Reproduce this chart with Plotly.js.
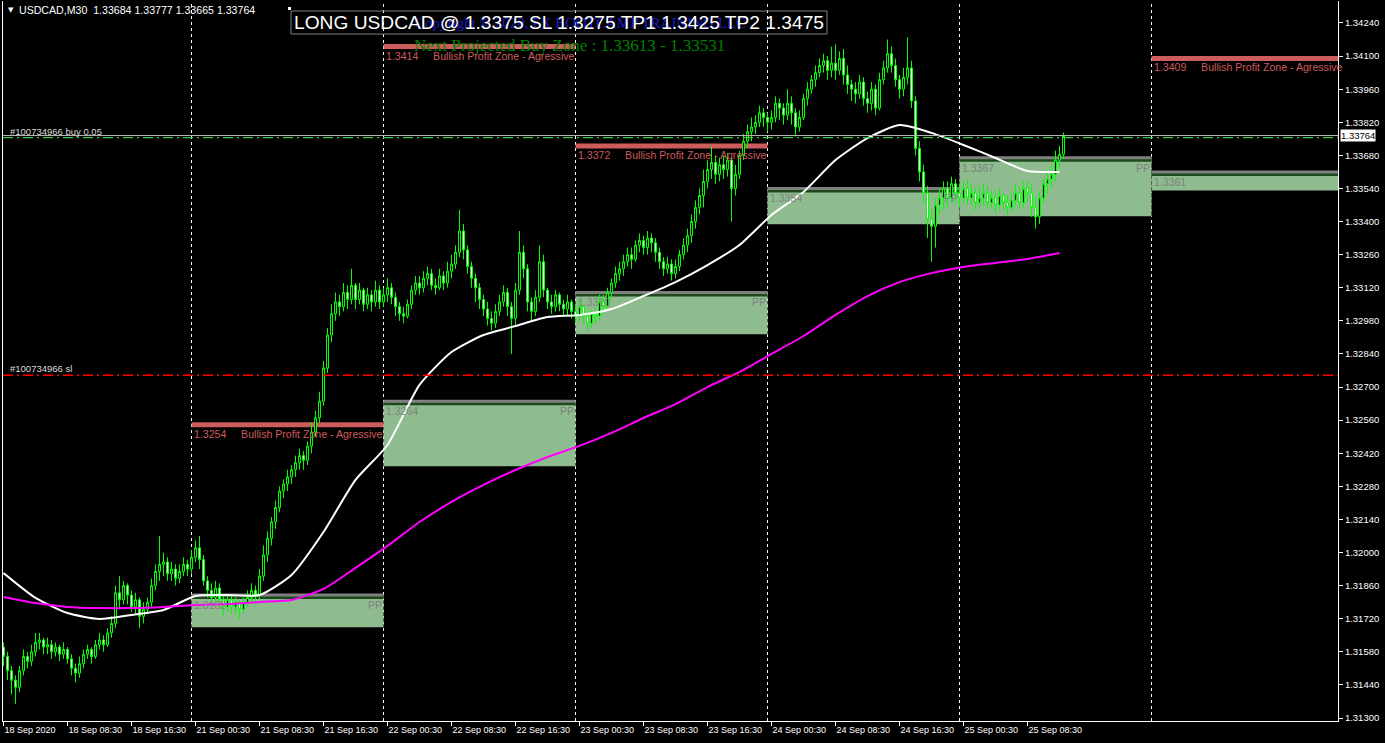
<!DOCTYPE html>
<html><head><meta charset="utf-8">
<script src="https://cdn.plot.ly/plotly-3.0.1.min.js"></script>
<style>html,body{margin:0;padding:0;background:#000;overflow:hidden}#chart{width:1385px;height:743px}</style>
</head><body><div id="chart"></div>
<script>
// ---- data (USDCAD M30 candles) ----
const closes = [
1.3156,1.3150,1.3146,1.3143, 1.3150,1.3156,1.3154,1.3158, 1.3162,1.3163,1.3160,1.3161, 1.3158,1.3160,1.3157,1.3159,
1.3155,1.3151,1.3149,1.3153, 1.3157,1.3159,1.3156,1.3161, 1.3163,1.3161,1.3166,1.3170, 1.3183,1.3180,1.3186,1.3182,
1.3177,1.3180,1.3173,1.3176, 1.3179,1.3186,1.3192,1.3195, 1.3196,1.3191,1.3193,1.3189, 1.3192,1.3195,1.3193,1.3198,
1.3202,1.3197,1.3188,1.3184, 1.3181,1.3185,1.3180,1.3177, 1.3180,1.3177,1.3179,1.3176, 1.3179,1.3181,1.3184,1.3182,
1.3190,1.3199,1.3206,1.3213, 1.3219,1.3226,1.3229,1.3232, 1.3235,1.3238,1.3241,1.3239, 1.3245,1.3251,1.3257,1.3264,
1.3278,1.3292,1.3301,1.3306, 1.3304,1.3310,1.3307,1.3313, 1.3307,1.3311,1.3305,1.3309, 1.3306,1.3311,1.3306,1.3309,
1.3312,1.3308,1.3304,1.3301, 1.3300,1.3305,1.3311,1.3314, 1.3312,1.3316,1.3318,1.3313, 1.3312,1.3317,1.3314,1.3319,
1.3322,1.3327,1.3336,1.3328, 1.3321,1.3316,1.3312,1.3307, 1.3303,1.3299,1.3297,1.3302, 1.3306,1.3310,1.3304,1.3299,
1.3311,1.3327,1.3320,1.3306, 1.3302,1.3308,1.3323,1.3311, 1.3306,1.3304,1.3309,1.3305, 1.3303,1.3306,1.3302,1.3300,
1.3304,1.3300,1.3297,1.3301, 1.3300,1.3306,1.3304,1.3310, 1.3314,1.3318,1.3320,1.3323, 1.3326,1.3324,1.3330,1.3332,
1.3329,1.3333,1.3331,1.3327, 1.3323,1.3320,1.3322,1.3318, 1.3321,1.3326,1.3330,1.3334, 1.3340,1.3346,1.3351,1.3357,
1.3362,1.3365,1.3360,1.3364, 1.3362,1.3366,1.3354,1.3360, 1.3368,1.3374,1.3378,1.3380, 1.3382,1.3386,1.3384,1.3382,
1.3384,1.3390,1.3388,1.3385, 1.3390,1.3386,1.3380,1.3384, 1.3392,1.3396,1.3400,1.3403, 1.3406,1.3408,1.3404,1.3407,
1.3404,1.3409,1.3402,1.3398, 1.3396,1.3394,1.3399,1.3392, 1.3390,1.3396,1.3388,1.3400, 1.3405,1.3411,1.3406,1.3400,
1.3396,1.3401,1.3405,1.3391, 1.3371,1.3361,1.3352,1.3341, 1.3338,1.3347,1.3350,1.3354, 1.3350,1.3356,1.3352,1.3350,
1.3354,1.3350,1.3352,1.3348, 1.3350,1.3352,1.3348,1.3350, 1.3347,1.3351,1.3348,1.3346, 1.3349,1.3352,1.3348,1.3354,
1.3352,1.3346,1.3342,1.3350, 1.3356,1.3358,1.3360,1.3366, 1.33684,1.33764
];
const highs = [
1.3162,1.3158,1.3152,1.3148, 1.3152,1.3159,1.3158,1.3161, 1.3166,1.3166,1.3164,1.3164, 1.3163,1.3162,1.3161,1.3162,
1.3160,1.3157,1.3153,1.3156, 1.3159,1.3161,1.3160,1.3163, 1.3166,1.3165,1.3168,1.3173, 1.3186,1.3190,1.3188,1.3187,
1.3184,1.3183,1.3181,1.3179, 1.3181,1.3189,1.3195,1.3207, 1.3200,1.3198,1.3196,1.3195, 1.3195,1.3198,1.3197,1.3201,
1.3205,1.3207,1.3199,1.3190, 1.3187,1.3188,1.3187,1.3182, 1.3182,1.3182,1.3181,1.3180, 1.3181,1.3184,1.3187,1.3186,
1.3193,1.3203,1.3209,1.3215, 1.3222,1.3228,1.3231,1.3235, 1.3237,1.3241,1.3244,1.3243, 1.3247,1.3255,1.3260,1.3268,
1.3281,1.3295,1.3305,1.3310, 1.3309,1.3314,1.3313,1.3320, 1.3314,1.3314,1.3312,1.3312, 1.3311,1.3315,1.3313,1.3312,
1.3316,1.3314,1.3310,1.3306, 1.3304,1.3307,1.3313,1.3317, 1.3317,1.3319,1.3321,1.3320, 1.3316,1.3320,1.3319,1.3323,
1.3326,1.3330,1.3345,1.3339, 1.3330,1.3323,1.3318,1.3314, 1.3309,1.3306,1.3302,1.3305, 1.3309,1.3313,1.3312,1.3306,
1.3314,1.3336,1.3330,1.3322, 1.3308,1.3311,1.3330,1.3326, 1.3312,1.3309,1.3311,1.3310, 1.3307,1.3309,1.3307,1.3305,
1.3307,1.3305,1.3302,1.3303, 1.3303,1.3309,1.3309,1.3312, 1.3316,1.3321,1.3323,1.3326, 1.3329,1.3329,1.3332,1.3335,
1.3334,1.3336,1.3335,1.3333, 1.3329,1.3325,1.3325,1.3324, 1.3324,1.3328,1.3333,1.3337, 1.3343,1.3349,1.3354,1.3362,
1.3366,1.3372,1.3368,1.3367, 1.3368,1.3369,1.3367,1.3364, 1.3370,1.3377,1.3381,1.3384, 1.3385,1.3389,1.3388,1.3386,
1.3387,1.3393,1.3392,1.3390, 1.3396,1.3393,1.3388,1.3387, 1.3394,1.3399,1.3402,1.3406, 1.3409,1.3411,1.3410,1.3414,
1.3415,1.3412,1.3413,1.3406, 1.3400,1.3399,1.3402,1.3401, 1.3395,1.3399,1.3398,1.3403, 1.3408,1.3417,1.3414,1.3409,
1.3402,1.3405,1.3418,1.3408, 1.3393,1.3374,1.3364,1.3355, 1.3345,1.3350,1.3354,1.3357, 1.3357,1.3359,1.3358,1.3356,
1.3357,1.3358,1.3356,1.3354, 1.3355,1.3356,1.3355,1.3353, 1.3353,1.3354,1.3352,1.3351, 1.3352,1.3356,1.3355,1.3357,
1.3357,1.3356,1.3350,1.3353, 1.3358,1.3361,1.3364,1.3370, 1.3372,1.33777
];
const lows = [
1.3152,1.3146,1.3140,1.3136, 1.3141,1.3148,1.3151,1.3152, 1.3156,1.3159,1.3157,1.3157, 1.3155,1.3156,1.3154,1.3155,
1.3153,1.3148,1.3145,1.3147, 1.3151,1.3155,1.3153,1.3155, 1.3159,1.3158,1.3160,1.3164, 1.3168,1.3176,1.3178,1.3178,
1.3175,1.3174,1.3168,1.3170, 1.3174,1.3177,1.3184,1.3188, 1.3190,1.3188,1.3188,1.3186, 1.3187,1.3190,1.3190,1.3191,
1.3196,1.3193,1.3186,1.3181, 1.3178,1.3179,1.3176,1.3173, 1.3175,1.3174,1.3174,1.3172, 1.3174,1.3177,1.3179,1.3178,
1.3180,1.3188,1.3196,1.3203, 1.3210,1.3217,1.3223,1.3226, 1.3229,1.3232,1.3235,1.3235, 1.3237,1.3242,1.3249,1.3255,
1.3262,1.3276,1.3289,1.3298, 1.3300,1.3302,1.3303,1.3305, 1.3303,1.3305,1.3302,1.3303, 1.3302,1.3304,1.3303,1.3304,
1.3306,1.3305,1.3300,1.3298, 1.3297,1.3299,1.3303,1.3309, 1.3309,1.3310,1.3313,1.3311, 1.3309,1.3311,1.3311,1.3312,
1.3316,1.3320,1.3325,1.3324, 1.3318,1.3312,1.3306,1.3303, 1.3300,1.3296,1.3294,1.3295, 1.3300,1.3304,1.3300,1.3284,
1.3296,1.3309,1.3316,1.3302, 1.3298,1.3300,1.3306,1.3308, 1.3303,1.3301,1.3302,1.3302, 1.3300,1.3300,1.3299,1.3297,
1.3298,1.3297,1.3294,1.3295, 1.3297,1.3298,1.3301,1.3302, 1.3307,1.3312,1.3315,1.3317, 1.3321,1.3320,1.3323,1.3327,
1.3326,1.3326,1.3327,1.3323, 1.3320,1.3317,1.3318,1.3315, 1.3316,1.3319,1.3324,1.3327, 1.3331,1.3337,1.3343,1.3346,
1.3354,1.3358,1.3356,1.3357, 1.3358,1.3359,1.3340,1.3351, 1.3358,1.3366,1.3371,1.3374, 1.3377,1.3380,1.3380,1.3378,
1.3379,1.3382,1.3383,1.3381, 1.3383,1.3381,1.3376,1.3378, 1.3383,1.3389,1.3394,1.3397, 1.3401,1.3403,1.3400,1.3401,
1.3400,1.3402,1.3398,1.3394, 1.3391,1.3390,1.3392,1.3389, 1.3386,1.3387,1.3385,1.3387, 1.3398,1.3403,1.3403,1.3397,
1.3392,1.3393,1.3398,1.3388, 1.3368,1.3357,1.3348,1.3333, 1.3323,1.3329,1.3343,1.3345, 1.3346,1.3348,1.3348,1.3346,
1.3348,1.3347,1.3347,1.3345, 1.3346,1.3347,1.3345,1.3346, 1.3344,1.3345,1.3345,1.3343, 1.3344,1.3347,1.3345,1.3346,
1.3348,1.3342,1.3337,1.3339, 1.3348,1.3352,1.3354,1.3357, 1.3363,1.33665
];
const firstOpen = 1.3160;   // each later bar opens at the previous close

const xTickIdx = [0,16,32,48,64,80,96,112,128,144,160,176,192,208,224,240,256];
const xTickText = ['18 Sep 2020','18 Sep 08:30','18 Sep 16:30','21 Sep 00:30','21 Sep 08:30','21 Sep 16:30',
  '22 Sep 00:30','22 Sep 08:30','22 Sep 16:30','23 Sep 00:30','23 Sep 08:30','23 Sep 16:30',
  '24 Sep 00:30','24 Sep 08:30','24 Sep 16:30','25 Sep 00:30','25 Sep 08:30'];
const yTickVals = [1.3130,1.3144,1.3158,1.3172,1.3186,1.3200,1.3214,1.3228,1.3242,1.3256,1.3270,
  1.3284,1.3298,1.3312,1.3326,1.3340,1.3354,1.3368,1.3382,1.3396,1.3410,1.3424];

const maIdx = [0,8,16,24,32,40,48,56,64,72,80,88,96,104,112,120,128,136,144,152,160,168,176,184,192,200,208,216,224,232,240,248,256,264];
const maWhite = [1.31913,1.31808,1.31744,1.31719,1.31736,1.31757,1.31816,1.31820,1.31820,1.31905,1.32087,1.32307,
  1.32455,1.32709,1.32848,1.32920,1.32958,1.32996,1.33005,1.33030,1.33085,1.33144,1.33216,1.33301,1.33428,1.33525,
  1.33660,1.33753,1.33808,1.33775,1.33724,1.33669,1.33614,1.33610];
const maMagenta = [1.31812,1.31786,1.31770,1.31765,1.31765,1.31770,1.31778,1.31782,1.31791,1.31799,1.31846,1.31935,
  1.32028,1.32129,1.32214,1.32286,1.32349,1.32404,1.32451,1.32506,1.32569,1.32628,1.32700,1.32764,1.32840,1.32916,
  1.33005,1.33085,1.33144,1.33182,1.33208,1.33225,1.33242,1.33267];

const daySeparators = [47,95,143,191,239,287];
const zoneStart  = [47,95,143,191,239,287];
const zoneEnd    = [95,143,191,239,287,334];
const zoneTop    = [1.3182,1.3264,1.3310,1.3354,1.3367,1.3361];
const zoneBottom = [1.31684,1.32365,1.32923,1.33389,1.33422,1.33531];
const zoneLabels = ['1.3182','1.3264','1.3310','1.3354','1.3367','1.3361'];

const profitStart = [47,95,143,287];
const profitEnd   = [95,143,191,334];
const profitPrice = [1.3254,1.3414,1.3372,1.3409];
const profitText  = 'Bullish Profit Zone - Agressive';

const bidPrice = 1.33764;
const openPrice = 1.33755;
const slPrice = 1.3275;
const headerText = 'USDCAD,M30\u00A0\u00A01.33684 1.33777 1.33665 1.33764';
const titleText = 'LONG USDCAD @ 1.3375 SL 1.3275 TP1 1.3425 TP2 1.3475';
const copyrightText = 'Copyright \u00A9 2020, FX BOOTCAMP TRAINING LLC';
const nextZoneText = 'Next Projected Buy Zone : 1.33613 - 1.33531';

// ---- build ----
const X0 = 3, X1 = 1338, Y0 = 1, Y1 = 721;
const px = x => (x - X0) / (X1 - X0);
const py = y => (Y1 - y) / (Y1 - Y0);
const FONT = 'Liberation Sans, Arial, sans-serif';

const idx = closes.map((_, i) => i);
const opens = [firstOpen].concat(closes.slice(0, -1));

const traces = [
  {type: 'candlestick', x: idx, open: opens, high: highs, low: lows, close: closes,
   increasing: {line: {color: '#00ff00', width: 1}, fillcolor: '#000000'},
   decreasing: {line: {color: '#00ff00', width: 1}, fillcolor: '#ffffff'},
   whiskerwidth: 0, hoverinfo: 'skip', showlegend: false},
  {type: 'scatter', mode: 'lines', x: maIdx, y: maWhite, line: {color: '#ffffff', width: 2, shape: 'spline', smoothing: 0.6}, hoverinfo: 'skip', showlegend: false},
  {type: 'scatter', mode: 'lines', x: maIdx, y: maMagenta, line: {color: '#ff00ff', width: 2, shape: 'spline', smoothing: 0.6}, hoverinfo: 'skip', showlegend: false}
];

const shapes = [];
daySeparators.forEach(s => shapes.push({type: 'line', xref: 'x', yref: 'paper', x0: s, x1: s, y0: 0, y1: 1,
  line: {color: '#ffffff', width: 1, dash: '3px,3px'}, layer: 'below'}));
zoneStart.forEach((s, k) => {
  const e = zoneEnd[k];
  shapes.push({type: 'rect', xref: 'x', yref: 'y', x0: s, x1: e, y0: zoneBottom[k], y1: zoneTop[k],
    fillcolor: '#8fbc8f', line: {width: 0}, layer: 'below'});
  shapes.push({type: 'rect', xref: 'x', yref: 'y', ysizemode: 'pixel', yanchor: zoneTop[k], y0: -4, y1: 0, x0: s, x1: e,
    fillcolor: '#1d4a1d', line: {width: 0}, layer: 'below'});
  shapes.push({type: 'line', xref: 'x', yref: 'y', x0: s, x1: e, y0: zoneTop[k], y1: zoneTop[k],
    line: {color: '#808080', width: 3}, layer: 'below'});
  [s, e].forEach(v => shapes.push({type: 'line', xref: 'x', yref: 'y', x0: v, x1: v, y0: zoneBottom[k], y1: zoneTop[k],
    line: {color: '#5a5a5a', width: 1, dash: '3px,3px'}, layer: 'below'}));
});
profitStart.forEach((s, k) => shapes.push({type: 'line', xref: 'x', yref: 'y', x0: s, x1: profitEnd[k],
  y0: profitPrice[k], y1: profitPrice[k], line: {color: '#cd5c5c', width: 5}, layer: 'below'}));
shapes.push({type: 'line', xref: 'paper', yref: 'y', x0: 0, x1: 1, y0: slPrice, y1: slPrice,
  line: {color: '#ff0000', width: 1.4, dash: '10px,4px,2px,4px'}, layer: 'above'});
shapes.push({type: 'line', xref: 'paper', yref: 'y', x0: 0, x1: 1, y0: openPrice, y1: openPrice,
  line: {color: '#32cd32', width: 1.2, dash: '10px,4px,2px,4px'}, layer: 'above'});
shapes.push({type: 'line', xref: 'paper', yref: 'y', x0: 0, x1: 1, y0: bidPrice, y1: bidPrice,
  line: {color: '#b4b4b4', width: 1}, layer: 'above'});
// title frame + anchor dot
shapes.push({type: 'rect', xref: 'paper', yref: 'paper', x0: px(291), x1: px(827), y0: py(34), y1: py(11),
  line: {color: '#74808c', width: 1}, fillcolor: 'rgba(0,0,0,0)', layer: 'above'});
shapes.push({type: 'rect', xref: 'paper', yref: 'paper', x0: px(288), x1: px(291), y0: py(10), y1: py(7),
  line: {width: 0}, fillcolor: '#ffffff', layer: 'above'});

const ann = [];
ann.push({xref: 'paper', yref: 'paper', x: px(6), y: py(10), xanchor: 'left', yanchor: 'middle', showarrow: false,
  text: '\u25BC', font: {family: 'DejaVu Sans', size: 7, color: '#ffffff'}});
ann.push({xref: 'paper', yref: 'paper', x: px(17), y: py(10), xanchor: 'left', yanchor: 'middle', showarrow: false,
  text: headerText, font: {family: FONT, size: 10.6, color: '#ffffff'}});
ann.push({xref: 'paper', yref: 'paper', x: px(413), y: py(23), xanchor: 'left', yanchor: 'middle', showarrow: false,
  text: copyrightText, font: {family: 'Liberation Serif, serif', size: 15, color: '#1c1cc8'}});
ann.push({xref: 'paper', yref: 'paper', x: px(292), y: py(22), xanchor: 'left', yanchor: 'middle', showarrow: false,
  text: titleText, font: {family: FONT, size: 19.2, color: '#ffffff'}});
ann.push({xref: 'paper', yref: 'paper', x: px(412), y: py(45.5), xanchor: 'left', yanchor: 'middle', showarrow: false,
  text: nextZoneText, font: {family: 'Liberation Serif, serif', size: 17, color: '#008000'}});
profitStart.forEach((s, k) => ann.push({xref: 'x', yref: 'y', x: s, y: profitPrice[k], xanchor: 'left', yanchor: 'top',
  xshift: 0, yshift: -1, showarrow: false,
  text: profitPrice[k].toFixed(4) + '\u00A0\u00A0\u00A0\u00A0\u00A0' + profitText,
  font: {family: FONT, size: 10.6, color: '#cd5c5c'}}));
zoneStart.forEach((s, k) => {
  ann.push({xref: 'x', yref: 'y', x: s, y: zoneTop[k], xanchor: 'left', yanchor: 'top', yshift: -2, showarrow: false,
    text: zoneLabels[k], font: {family: FONT, size: 10.5, color: '#808080'}});
  ann.push({xref: 'x', yref: 'y', x: zoneEnd[k], y: zoneTop[k], xanchor: 'right', yanchor: 'top', yshift: -2, showarrow: false,
    text: 'PP', font: {family: FONT, size: 10.5, color: '#808080'}});
});
ann.push({xref: 'paper', yref: 'y', x: px(8), y: openPrice, xanchor: 'left', yanchor: 'bottom', yshift: -1, showarrow: false,
  text: '#100734966 buy 0.05', font: {family: FONT, size: 9.5, color: '#dcdcdc'}});
ann.push({xref: 'paper', yref: 'y', x: px(8), y: slPrice, xanchor: 'left', yanchor: 'bottom', yshift: -1, showarrow: false,
  text: '#100734966 sl', font: {family: FONT, size: 9.5, color: '#dcdcdc'}});
ann.push({xref: 'paper', yref: 'y', x: 1, y: bidPrice, xanchor: 'left', yanchor: 'middle', xshift: 2, showarrow: false,
  text: bidPrice.toFixed(5), bgcolor: '#ffffff', borderpad: 0, font: {family: FONT, size: 9.5, color: '#000000'}});

const layout = {
  width: 1385, height: 743,
  paper_bgcolor: '#000000', plot_bgcolor: '#000000',
  margin: {l: X0, r: 1385 - X1, t: Y0, b: 743 - Y1},
  showlegend: false, hovermode: false, dragmode: false,
  boxgap: 0.5, boxgroupgap: 0,
  xaxis: {range: [-0.125, 333.625], showgrid: false, zeroline: false, showline: true, linecolor: '#ffffff', linewidth: 1,
    ticks: 'outside', ticklen: 4, tickcolor: '#ffffff', tickvals: xTickIdx, ticktext: xTickText, tickangle: 0,
    ticklabelposition: 'outside right', tickfont: {family: FONT, size: 9, color: '#ffffff'},
    rangeslider: {visible: false}, fixedrange: true},
  yaxis: {range: [1.312873, 1.34333], side: 'right', showgrid: false, zeroline: false, showline: true, mirror: true,
    linecolor: '#ffffff', linewidth: 1, ticks: 'outside', ticklen: 4, tickcolor: '#ffffff',
    tickvals: yTickVals, ticktext: yTickVals.map(v => v.toFixed(5)),
    tickfont: {family: FONT, size: 9.5, color: '#ffffff'}, fixedrange: true},
  shapes: shapes, annotations: ann
};
Plotly.newPlot('chart', traces, layout, {staticPlot: true, displayModeBar: false});
</script>
</body></html>
